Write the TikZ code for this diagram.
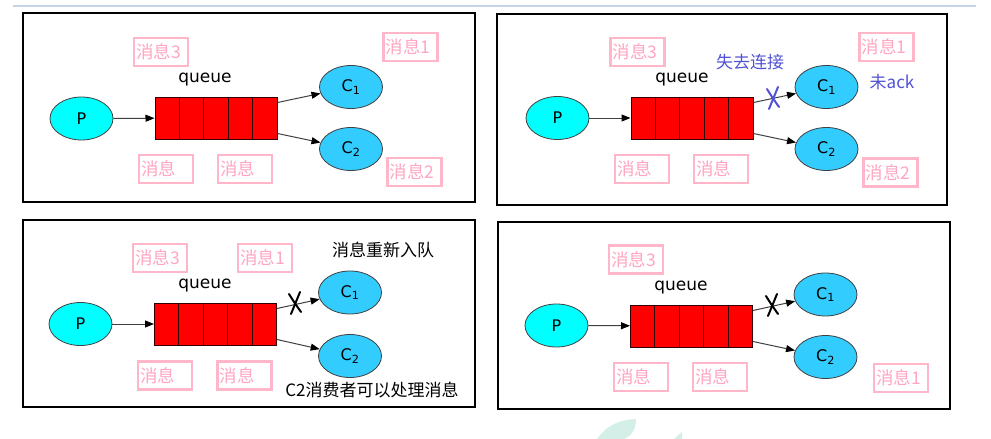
\documentclass[tikz,border=0pt]{standalone}
\usepackage{fontspec}
\setmainfont{DejaVu Sans}
\newfontfamily\cjk{Noto Sans CJK SC}
\usetikzlibrary{shapes.geometric,arrows.meta,calc}
\definecolor{pinkb}{HTML}{FFB6C8}
\definecolor{pinkt}{HTML}{FFA6C2}
\definecolor{cyanP}{HTML}{00FFFF}
\definecolor{blueC}{HTML}{33CCFF}
\definecolor{edgeg}{HTML}{404040}
\definecolor{bluet}{HTML}{5252D6}
\definecolor{topline}{HTML}{C8D2E6}
\definecolor{wmark}{HTML}{D3EFE8}
\tikzset{
  panel/.style={draw=black,line width=2.5pt},
  prod/.style={ellipse,draw=edgeg,fill=cyanP,line width=0.8pt,minimum width=63pt,minimum height=43pt,inner sep=0pt,font=\fontsize{16}{16}\selectfont},
  cons/.style={prod,fill=blueC},
  qbox/.style={draw=black!80!red,fill=red,line width=1pt,minimum width=122pt,minimum height=42pt,inner sep=0pt},
  qline/.style={draw=black!80!red,line width=1pt},
  qlabel/.style={font=\fontsize{17}{17}\selectfont},
  msg/.style={draw=pinkb,line width=2.5pt,text=pinkt,font=\cjk\fontsize{17.5}{17.5}\selectfont,minimum width=54pt,minimum height=28pt,text width=50pt,inner sep=2pt,align=left},
  note/.style={font=\cjk\fontsize{17}{17}\selectfont,inner sep=0pt},
  arr/.style={draw=edgeg,line width=1pt,-{Triangle[length=9pt,width=7pt,color=black]}},
  xmark/.pic={
    \draw[line width=2pt,line cap=round] (-6,-9) .. controls (-1,-1) .. (6,9);
    \draw[line width=2pt,line cap=round] (5,-11) .. controls (1,0) .. (-4,11);
  }
}
\newcommand\queuepanel[6]{%
  \node[prod] (#1P) at (#2) {P};
  \node[qbox] (#1Q) at (#3) {};
  \foreach \i in {1,...,4}
    \draw[qline] ($(#1Q.north west)!\i/5!(#1Q.north east)$) -- ($(#1Q.south west)!\i/5!(#1Q.south east)$);
  \node[qlabel] (#1L) at (#4) {queue};
  \node[cons] (#1C1) at (#5) {C\textsubscript{1}};
  \node[cons] (#1C2) at (#6) {C\textsubscript{2}};
  \coordinate (#1a) at ($(#1Q.north east)+(0,6)$);
  \coordinate (#1b) at ($(#1Q.south east)+(0,-6)$);
  \draw[arr] (#1P) -- (#1Q);
  \draw[arr] (#1a) -- (#1C1);
  \draw[arr] (#1b) -- (#1C2);
}
\begin{document}
\begin{tikzpicture}[x=1pt,y=-1pt]
\useasboundingbox (0,0) rectangle (991,439);
\fill[white] (0,0) rectangle (991,439);
\draw[topline,line width=1.5pt] (13,6) -- (976,6);
% watermark fragments
\fill[wmark] (597,439) .. controls (606,427) and (616,420) .. (636,419) .. controls (636,430) and (631,436) .. (624,439) -- cycle;
\fill[wmark] (674,439) -- (682,432) -- (682,439) -- cycle;

% panel 1
\draw[panel] (23,13) rectangle (475,202);
\queuepanel{a}{81.5,118.5}{216,118}{205,80}{351,87}{351,149}
\node[msg] (a3) at (161,52) {消息3};
\node[msg] (a1) at (410.5,47) {消息1};
\node[msg] (am1) at (166,169) {消息};
\node[msg] (am2) at (245,169) {消息};
\node[msg] (a2) at (414.5,172) {消息2};

% panel 2
\draw[panel] (497,14) rectangle (947,205);
\queuepanel{b}{557.5,118}{692,118}{682,80}{826.5,87}{826.5,149}
\node[msg] (b3) at (637.5,52) {消息3};
\node[msg] (b1) at (886.5,47) {消息1};
\node[msg] (bm1) at (642,169) {消息};
\node[msg] (bm2) at (721,169) {消息};
\node[msg] (b2) at (890.5,172.5) {消息2};
\node[note,text=bluet] (blost) at (750,62) {失去连接};
\node[note,text=bluet] (back) at (892,82) {未ack};
\begin{scope}[color=bluet]
\pic (bx) at (773,98) {xmark};
\end{scope}

% panel 3
\draw[panel] (23,220) rectangle (475,407);
\queuepanel{c}{80.5,324}{215.5,324}{205,286}{350,292.5}{350,356}
\node[msg] (c3) at (160,258) {消息3};
\node[msg] (c1) at (265,258) {消息1};
\node[msg] (cm1) at (165,375.5) {消息};
\node[msg] (cm2) at (244.5,375.5) {消息};
\node[note] (crq) at (383,250) {消息重新入队};
\node[note] (cc2) at (372,390) {C2消费者可以处理消息};
\pic (cx) at (295,303) {xmark};

% panel 4
\draw[panel] (498,222) rectangle (950,409);
\queuepanel{d}{556.5,325.5}{691.5,326}{681,288}{825.5,294.5}{825.5,357}
\node[msg] (d3) at (636,259.5) {消息3};
\node[msg] (dm1) at (641,377) {消息};
\node[msg] (dm2) at (720,377) {消息};
\node[msg] (d1) at (901,378) {消息1};
\pic (dx) at (772,305) {xmark};
\end{tikzpicture}
\end{document}
